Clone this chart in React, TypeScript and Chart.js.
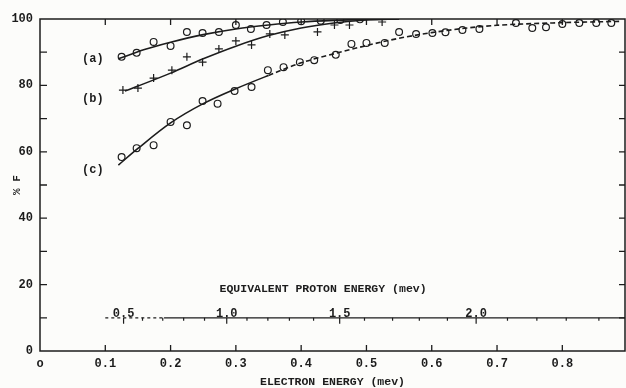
import React, { useEffect, useRef } from "react";
import { Chart, registerables } from "chart.js";

Chart.register(...registerables);

// Electron energy axis (MeV)
const electronTicks = [0, 0.1, 0.2, 0.3, 0.4, 0.5, 0.6, 0.7, 0.8];
const electronTickLabels = ["o", "0.1", "0.2", "0.3", "0.4", "0.5", "0.6", "0.7", "0.8"];
const electronMax = 0.896;

// Percentage axis
const percentTicks = [0, 10, 20, 30, 40, 50, 60, 70, 80, 90, 100];
const percentTickLabels = ["0", "", "20", "", "40", "", "60", "", "80", "", "100"];

// Measured points, curve (a)
const energyA = [0.125, 0.148, 0.174, 0.2, 0.225, 0.249, 0.274, 0.3, 0.323, 0.347, 0.372, 0.4, 0.43, 0.46, 0.49];
const valuesA = [88.6, 89.8, 93.1, 91.9, 96.1, 95.8, 96.1, 98.2, 97.0, 98.2, 99.1, 99.3, 99.5, 99.7, 99.9];

// Measured points, curve (b)
const energyB = [0.127, 0.15, 0.174, 0.202, 0.225, 0.249, 0.274, 0.3, 0.324, 0.352, 0.375, 0.425, 0.451, 0.474, 0.524];
const valuesB = [78.6, 79.2, 82.2, 84.6, 88.6, 87.0, 91.0, 93.4, 92.2, 95.5, 95.2, 96.1, 98.2, 98.2, 99.1];

// Measured points, curve (c)
const energyC = [0.125, 0.148, 0.174, 0.2, 0.225, 0.249, 0.272, 0.298, 0.324, 0.349, 0.373, 0.398, 0.42, 0.453, 0.477, 0.5, 0.528, 0.55, 0.576, 0.601, 0.621, 0.647, 0.673, 0.729, 0.754, 0.775, 0.8, 0.826, 0.852, 0.875];
const valuesC = [58.4, 61.1, 62.0, 69.0, 68.0, 75.3, 74.5, 78.3, 79.5, 84.6, 85.5, 87.0, 87.6, 89.2, 92.5, 92.8, 92.8, 96.1, 95.5, 95.8, 96.0, 96.7, 97.0, 98.8, 97.3, 97.5, 98.5, 98.8, 98.8, 98.8];

// Smooth curves drawn through each set
const fitEnergyA = [0.12, 0.16, 0.2, 0.25, 0.3, 0.35, 0.4, 0.45, 0.5, 0.55];
const fitValuesA = [88.0, 90.8, 93.0, 95.3, 97.0, 98.2, 99.1, 99.6, 99.9, 100];
const fitEnergyB = [0.13, 0.15, 0.2, 0.25, 0.3, 0.35, 0.4, 0.45, 0.5, 0.55];
const fitValuesB = [78.3, 79.8, 83.7, 88.0, 91.8, 95.0, 97.3, 98.8, 99.7, 100];
const fitEnergyC = [0.12, 0.15, 0.2, 0.25, 0.3, 0.35, 0.4, 0.45, 0.5, 0.55, 0.6, 0.65, 0.7, 0.8, 0.89];
const fitValuesC = [56, 61, 68.7, 74.5, 79, 83, 86.8, 89.5, 92, 94.2, 95.9, 97.2, 98.1, 98.9, 99.3];

// Equivalent proton energy scale (MeV) and the electron energy each tick sits at
const protonTickMev = [0.5, 0.6, 0.7, 0.8, 0.9, 1.0, 1.1, 1.2, 1.3, 1.4, 1.5, 1.6, 1.7, 1.8, 1.9, 2.0, 2.1, 2.2, 2.3, 2.4];
const protonTickElectronMev = [0.128, 0.157, 0.188, 0.22, 0.252, 0.286, 0.317, 0.349, 0.382, 0.419, 0.459, 0.497, 0.54, 0.581, 0.624, 0.668, 0.716, 0.761, 0.806, 0.856];
const protonLabelledMev = [0.5, 1.0, 1.5, 2.0];

const curveNames = ["(a)", "(b)", "(c)"];

// Placement of the inset proton scale and the curve names (data units)
const protonAxisLevel = 10;
const protonAxisFrom = 0.1;
const protonAxisDashedTo = 0.19;
const protonTitleAt = { x: 0.275, y: 18.6 };
const curveNameAt = [
  { x: 0.081, y: 88 },
  { x: 0.081, y: 75.9 },
  { x: 0.081, y: 54.5 },
];

const INK = "#1c1c1c";
const MONO = "'Liberation Mono', 'DejaVu Sans Mono', monospace";

const zip = (xs: number[], ys: number[]) => xs.map((x, i) => ({ x, y: ys[i] }));

const framePlugin = {
  id: "frame",
  beforeDraw(chart: any) {
    const { ctx, width, height } = chart;
    ctx.save();
    ctx.fillStyle = "#fcfcfa";
    ctx.fillRect(0, 0, width, height);
    ctx.restore();
  },
  afterDatasetsDraw(chart: any) {
    const { ctx, chartArea } = chart;
    const xs = chart.scales.x;
    const ys = chart.scales.y;
    const { left, right, top, bottom } = chartArea;
    ctx.save();
    ctx.strokeStyle = INK;
    ctx.fillStyle = INK;
    ctx.lineWidth = 1.5;

    // frame
    ctx.strokeRect(left, top, right - left, bottom - top);

    // inward tick marks on all four sides
    ctx.lineWidth = 1.3;
    ctx.beginPath();
    ys.ticks.forEach((t: any) => {
      if (t.value <= 0 || t.value >= 100) return;
      const py = ys.getPixelForValue(t.value);
      ctx.moveTo(left, py);
      ctx.lineTo(left + 7, py);
      ctx.moveTo(right, py);
      ctx.lineTo(right - 6, py);
    });
    xs.ticks.forEach((t: any) => {
      if (t.value <= 0) return;
      const px = xs.getPixelForValue(t.value);
      ctx.moveTo(px, bottom);
      ctx.lineTo(px, bottom - 6);
      ctx.moveTo(px, top);
      ctx.lineTo(px, top + 6);
    });
    ctx.stroke();

    // inset proton energy scale
    const yLine = ys.getPixelForValue(protonAxisLevel);
    const x0 = xs.getPixelForValue(protonAxisFrom);
    const x1 = xs.getPixelForValue(protonAxisDashedTo);
    ctx.lineWidth = 1.2;
    ctx.setLineDash([3, 3]);
    ctx.beginPath();
    ctx.moveTo(x0, yLine);
    ctx.lineTo(x1, yLine);
    ctx.stroke();
    ctx.setLineDash([]);
    ctx.beginPath();
    ctx.moveTo(x1, yLine);
    ctx.lineTo(right, yLine);
    ctx.stroke();

    ctx.font = `bold 12px ${MONO}`;
    ctx.textAlign = "center";
    ctx.textBaseline = "alphabetic";
    ctx.beginPath();
    protonTickMev.forEach((mev, i) => {
      const px = xs.getPixelForValue(protonTickElectronMev[i]);
      const major = protonLabelledMev.includes(mev);
      ctx.moveTo(px, yLine);
      ctx.lineTo(px, yLine + (major ? 6 : 3));
    });
    ctx.stroke();
    protonTickMev.forEach((mev, i) => {
      if (!protonLabelledMev.includes(mev)) return;
      const px = xs.getPixelForValue(protonTickElectronMev[i]);
      ctx.fillText(mev.toFixed(1), px, yLine - 1);
    });

    ctx.font = `bold 11.5px ${MONO}`;
    ctx.textAlign = "left";
    ctx.textBaseline = "middle";
    ctx.fillText(
      "EQUIVALENT PROTON ENERGY (mev)",
      xs.getPixelForValue(protonTitleAt.x),
      ys.getPixelForValue(protonTitleAt.y)
    );

    // curve names
    ctx.font = `bold 12px ${MONO}`;
    ctx.textAlign = "center";
    curveNames.forEach((name, i) => {
      ctx.fillText(name, xs.getPixelForValue(curveNameAt[i].x), ys.getPixelForValue(curveNameAt[i].y));
    });
    ctx.restore();
  },
};

export default function App() {
  const canvasRef = useRef<HTMLCanvasElement | null>(null);

  useEffect(() => {
    if (!canvasRef.current) return;
    const curve = (xs: number[], ys: number[], extra: any = {}) => ({
      data: zip(xs, ys),
      showLine: true,
      borderColor: INK,
      borderWidth: 1.6,
      pointRadius: 0,
      cubicInterpolationMode: "monotone",
      fill: false,
      ...extra,
    });
    const marks = (xs: number[], ys: number[], style: string, r: number) => ({
      data: zip(xs, ys),
      showLine: false,
      pointStyle: style,
      pointRadius: r,
      pointBorderWidth: 1.2,
      pointBorderColor: INK,
      pointBackgroundColor: "#fcfcfa",
    });

    const chart = new Chart(canvasRef.current, {
      type: "scatter",
      data: {
        datasets: [
          curve(fitEnergyA, fitValuesA),
          curve(fitEnergyB, fitValuesB),
          curve(fitEnergyC, fitValuesC, {
            segment: { borderDash: (c: any) => (c.p0.parsed.x >= 0.33 ? [5, 3] : undefined) },
          }),
          marks(energyA, valuesA, "circle", 3.4),
          marks(energyB, valuesB, "cross", 4),
          marks(energyC, valuesC, "circle", 3.4),
        ] as any,
      },
      options: {
        responsive: false,
        animation: false,
        layout: { autoPadding: false, padding: { top: 19, right: 1, left: 0, bottom: 0 } },
        plugins: { legend: { display: false }, tooltip: { enabled: false } },
        scales: {
          x: {
            type: "linear",
            min: 0,
            max: electronMax,
            afterBuildTicks: (s: any) => {
              s.ticks = electronTicks.map((v) => ({ value: v }));
            },
            afterFit: (s: any) => {
              s.height = 37;
              s.paddingLeft = 0;
              s.paddingRight = 0;
            },
            grid: { display: false, drawTicks: false },
            border: { display: false },
            ticks: {
              autoSkip: false,
              maxRotation: 0,
              padding: 6,
              color: INK,
              font: { family: MONO, size: 12, weight: "bold" },
              callback: (_v: any, i: number) => electronTickLabels[i],
            },
            title: {
              display: true,
              text: "ELECTRON ENERGY (mev)",
              color: INK,
              font: { family: MONO, size: 11.5, weight: "bold", lineHeight: 1 },
              padding: { top: 0, bottom: 0 },
            },
          },
          y: {
            type: "linear",
            min: 0,
            max: 100,
            afterBuildTicks: (s: any) => {
              s.ticks = percentTicks.map((v) => ({ value: v }));
            },
            afterFit: (s: any) => {
              s.width = 40;
            },
            grid: { display: false, drawTicks: false },
            border: { display: false },
            ticks: {
              autoSkip: false,
              padding: 7,
              color: INK,
              font: { family: MONO, size: 12, weight: "bold" },
              callback: (_v: any, i: number) => percentTickLabels[i],
            },
            title: {
              display: true,
              text: "% F",
              color: INK,
              font: { family: MONO, size: 11, weight: "bold", lineHeight: 1.2 },
              padding: { top: 11, bottom: 0 },
            },
          },
        },
      },
      plugins: [framePlugin],
    });
    return () => chart.destroy();
  }, []);

  return (
    <div style={{ position: "fixed", left: 0, top: 0, width: 626, height: 388 }}>
      <canvas ref={canvasRef} width={626} height={388} style={{ width: 626, height: 388 }} />
    </div>
  );
}
